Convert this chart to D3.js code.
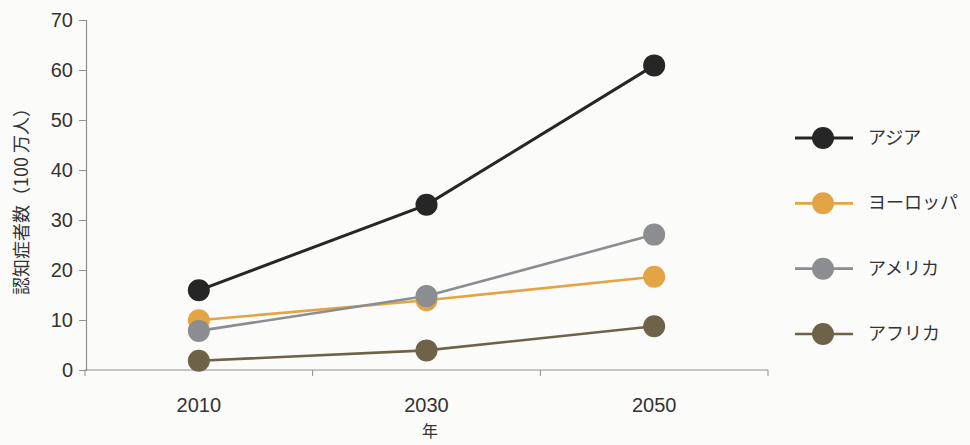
<!DOCTYPE html>
<html>
<head>
<meta charset="utf-8">
<script src="https://cdn.jsdelivr.net/npm/d3@7"></script>
<style>
  html, body { margin: 0; padding: 0; background: #fbfbfa; }
  svg { display: block; }
  .num { font-family: "Liberation Sans", Arial, sans-serif; }
  .jp { font-family: "Noto Sans CJK JP", "Noto Sans", sans-serif; }
</style>
</head>
<body>
<svg id="chart" width="970" height="445"></svg>
<script>
// Dementia prevalence by region (millions of people)
const years = ["2010", "2030", "2050"];
const regions = ["アジア", "ヨーロッパ", "アメリカ", "アフリカ"];
const asia    = [15.94, 33.04, 60.92];
const europe  = [9.95, 13.95, 18.65];
const america = [7.82, 14.78, 27.08];
const africa  = [1.86, 3.92, 8.74];
const yTicks  = [0, 10, 20, 30, 40, 50, 60, 70];
const regionColors = ["#262626", "#e3a445", "#8b8d91", "#6e6248"];

const seriesValues = [asia, europe, america, africa];
const series = regions.map((name, i) => ({ name, values: seriesValues[i], color: regionColors[i] }));

const svg = d3.select("#chart");
const axisColor = "#8f8f8f";
const textColor = "#333";

const x = d3.scaleBand().domain(years).range([85, 768]).padding(0);
const y = d3.scaleLinear().domain([0, 70]).range([370, 20]);

// y axis
const yAxis = svg.append("g").attr("transform", "translate(86,0)")
  .call(d3.axisLeft(y).tickValues(yTicks).tickSize(7).tickPadding(6));
yAxis.select(".domain").attr("stroke", axisColor).attr("stroke-width", 1.2);
yAxis.selectAll(".tick line").attr("stroke", axisColor);
yAxis.selectAll(".tick text").attr("class", "num").attr("fill", textColor)
  .style("font-size", "20px");

// x axis: ticks sit on band boundaries, labels at band centres
const xAxisG = svg.append("g").attr("transform", "translate(0,370)");
xAxisG.append("line").attr("x1", x.range()[0]).attr("x2", x.range()[1])
  .attr("stroke", axisColor).attr("stroke-width", 1.2);
const bounds = years.map(d => x(d)).concat([x.range()[1]]);
xAxisG.selectAll("line.tk").data(bounds).join("line").attr("class", "tk")
  .attr("x1", d => d).attr("x2", d => d).attr("y1", 0).attr("y2", 6)
  .attr("stroke", axisColor);
xAxisG.selectAll("text").data(years).join("text")
  .attr("class", "num")
  .attr("x", d => x(d) + x.bandwidth() / 2)
  .attr("y", 42)
  .attr("text-anchor", "middle")
  .attr("fill", textColor)
  .style("font-size", "20px")
  .text(d => d);

// axis titles
svg.append("text").attr("class", "jp")
  .attr("transform", "translate(430,437)")
  .attr("text-anchor", "middle").attr("fill", textColor)
  .style("font-size", "16px").text("年");
svg.append("text").attr("class", "jp")
  .attr("transform", "translate(28,197) rotate(-90)")
  .attr("text-anchor", "middle").attr("fill", textColor)
  .style("font-size", "18px").text("認知症者数（100 万人）");

// lines and markers
const cx = d => x(d) + x.bandwidth() / 2;
const line = d3.line().x((v, i) => cx(years[i])).y(v => y(v));

const drawOrder = [3, 1, 2, 0];
drawOrder.forEach(i => {
  const s = series[i];
  svg.append("path").datum(s.values)
    .attr("d", line).attr("fill", "none")
    .attr("stroke", s.color).attr("stroke-width", i === 0 ? 3 : 2.6);
});
drawOrder.forEach(i => {
  const s = series[i];
  svg.append("g").selectAll("circle").data(s.values).join("circle")
    .attr("cx", (v, j) => cx(years[j])).attr("cy", v => y(v))
    .attr("r", 11).attr("fill", s.color);
});

// legend
const legend = svg.append("g");
const legendY = d3.scalePoint().domain(regions).range([138, 334]);
series.forEach(s => {
  const g = legend.append("g").attr("transform", `translate(0,${legendY(s.name)})`);
  g.append("line").attr("x1", 795).attr("x2", 853)
    .attr("stroke", s.color).attr("stroke-width", s.name === "アジア" ? 3 : 2.6);
  g.append("circle").attr("cx", 823).attr("r", 11).attr("fill", s.color);
  g.append("text").attr("class", "jp").attr("x", 868).attr("y", 6)
    .attr("fill", textColor).style("font-size", "18px").text(s.name);
});
</script>
</body>
</html>
